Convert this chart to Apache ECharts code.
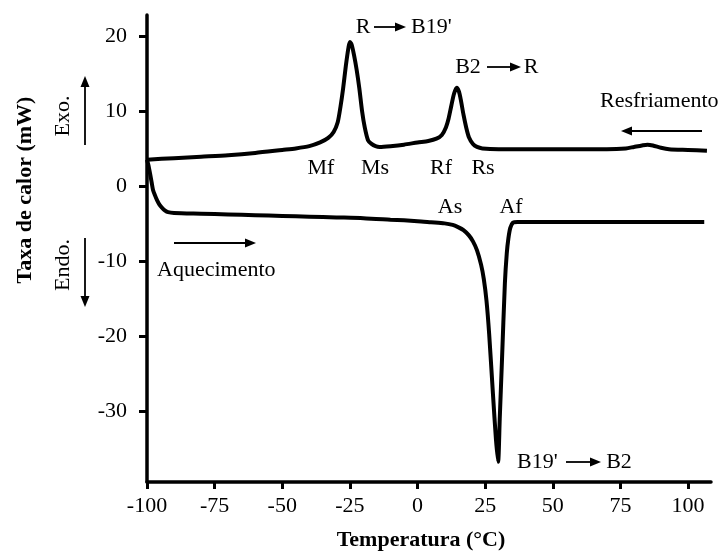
<!DOCTYPE html>
<html>
<head>
<meta charset="utf-8">
<script src="https://cdn.jsdelivr.net/npm/echarts@6/dist/echarts.min.js"></script>
<style>
  html, body { margin: 0; padding: 0; background: #fff; }
  #chart { width: 721px; height: 552px; }
</style>
</head>
<body>
<div id="chart"></div>
<script>
// cooling run (Resfriamento)
const coolTemp = [-100, -90, -80, -70, -60, -50, -45, -40, -36, -33, -31, -29.5, -28.5, -27.5, -26.5, -25.5, -25, -24.3, -23.5, -22.5, -21.5, -20.5, -19.5, -18.3, -17, -15.5, -14, -10, -5, 0, 4, 7, 9, 10.5, 11.5, 12.5, 13.5, 14.5, 15.3, 16, 17, 18, 19, 20.5, 22, 24, 30, 40, 50, 60, 70, 77, 80, 83, 85, 87, 90, 93, 100, 107];
const coolFlow = [3.5, 3.7, 3.9, 4.1, 4.4, 4.8, 5.0, 5.3, 5.8, 6.4, 7.2, 8.5, 10.5, 13, 16, 18.5, 19.2, 18.8, 17.5, 15.5, 13, 10, 7.8, 6.1, 5.6, 5.3, 5.2, 5.3, 5.5, 5.8, 6.0, 6.3, 6.8, 7.8, 9.0, 10.7, 12.3, 13.1, 12.6, 11.5, 9.5, 7.8, 6.5, 5.6, 5.2, 5.0, 4.9, 4.9, 4.9, 4.9, 4.9, 5.0, 5.2, 5.4, 5.5, 5.4, 5.1, 4.9, 4.8, 4.7];

// heating run (Aquecimento)
const heatTemp = [-100, -99.5, -98.9, -98.3, -97.8, -97, -96.3, -95.4, -94.5, -93.3, -92.2, -90, -80, -70, -60, -50, -40, -30, -20, -10, 0, 5, 10, 13, 15, 17, 19, 20.5, 22, 23.5, 24.5, 25.5, 26.5, 27.9, 29, 29.8, 30.4, 31.2, 32.3, 33, 33.6, 34.3, 35.3, 37, 40, 50, 60, 70, 80, 90, 100, 106];
const heatFlow = [3.5, 2.8, 1.7, 0.5, -0.5, -1.3, -1.9, -2.5, -2.9, -3.3, -3.5, -3.6, -3.7, -3.8, -3.9, -4.0, -4.1, -4.2, -4.3, -4.5, -4.7, -4.85, -5.0, -5.2, -5.5, -5.9, -6.6, -7.4, -8.6, -10.5, -12.4, -15.3, -19.8, -27.8, -33.8, -36.8, -31.1, -23.5, -13, -9, -7, -5.6, -4.9, -4.8, -4.8, -4.8, -4.8, -4.8, -4.8, -4.8, -4.8, -4.8];

const xTicks = [-100, -75, -50, -25, 0, 25, 50, 75, 100];
const yTicks = [-30, -20, -10, 0, 10, 20];

const font = 'Liberation Serif';

function zip(a, b) {
  return a.map(function (v, i) { return [v, b[i]]; });
}

function label(text, x, y, opts) {
  opts = opts || {};
  return {
    type: 'text', x: x, y: y, rotation: opts.rotation || 0,
    style: {
      text: text, fill: '#000', fontFamily: font, fontSize: 22,
      fontWeight: opts.bold ? 'bold' : 'normal',
      align: opts.align || 'center', verticalAlign: 'middle'
    }
  };
}

function arrow(x1, y1, x2, y2) {
  const a = Math.atan2(y2 - y1, x2 - x1);
  const L = 11, W = 4.5;
  const c = Math.cos(a), s = Math.sin(a);
  const bx = x2 - L * c, by = y2 - L * s;
  return {
    type: 'group',
    children: [
      { type: 'line', shape: { x1: x1, y1: y1, x2: bx, y2: by }, style: { stroke: '#000', lineWidth: 1.8 } },
      { type: 'polygon', shape: { points: [[x2, y2], [bx - W * s, by + W * c], [bx + W * s, by - W * c]] }, style: { fill: '#000' } }
    ]
  };
}

const axisLine = { show: true, onZero: false, lineStyle: { color: '#000', width: 3.5 } };

const chart = echarts.init(document.getElementById('chart'));
chart.setOption({
  animation: false,
  backgroundColor: '#fff',
  grid: { left: 147, right: 10, top: 15, bottom: 70 },
  xAxis: {
    type: 'value', min: -100, max: 108.5,
    axisLine: axisLine,
    splitLine: { show: false },
    axisTick: { show: true, length: 7, customValues: xTicks, lineStyle: { color: '#000', width: 3 } },
    axisLabel: { customValues: xTicks, color: '#000', fontFamily: font, fontSize: 22, margin: 13 }
  },
  yAxis: {
    type: 'value', min: -39.5, max: 22.8,
    axisLine: axisLine,
    splitLine: { show: false },
    axisTick: { show: true, length: 8, customValues: yTicks, lineStyle: { color: '#000', width: 3 } },
    axisLabel: { customValues: yTicks, color: '#000', fontFamily: font, fontSize: 22, margin: 20 }
  },
  series: [
    {
      name: 'Resfriamento', type: 'line', data: zip(coolTemp, coolFlow),
      symbol: 'none', smooth: 0.25,
      lineStyle: { color: '#000', width: 4 }
    },
    {
      name: 'Aquecimento', type: 'line', data: zip(heatTemp, heatFlow),
      symbol: 'none', smooth: 0.25,
      lineStyle: { color: '#000', width: 4 }
    }
  ],
  graphic: [
    label('Taxa de calor (mW)', 25, 190, { bold: true, rotation: Math.PI / 2 }),
    label('Temperatura (°C)', 421, 540, { bold: true }),
    label('Exo.', 63, 116, { rotation: Math.PI / 2 }),
    arrow(85, 145, 85, 76),
    label('Endo.', 63, 265, { rotation: Math.PI / 2 }),
    arrow(85, 238, 85, 307),
    label('R', 363, 27),
    arrow(374, 27, 406, 27),
    label("B19'", 411, 27, { align: 'left' }),
    label('B2', 468, 67),
    arrow(487, 67, 521, 67),
    label('R', 531, 67),
    label('Resfriamento', 600, 101, { align: 'left' }),
    arrow(702, 131, 621, 131),
    label('Aquecimento', 157, 270, { align: 'left' }),
    arrow(174, 243, 256, 243),
    label("B19'", 517, 462, { align: 'left' }),
    arrow(566, 462, 601, 462),
    label('B2', 619, 462),
    label('Mf', 321, 168),
    label('Ms', 375, 168),
    label('Rf', 441, 168),
    label('Rs', 483, 168),
    label('As', 450, 207),
    label('Af', 511, 207)
  ]
});
</script>
</body>
</html>
